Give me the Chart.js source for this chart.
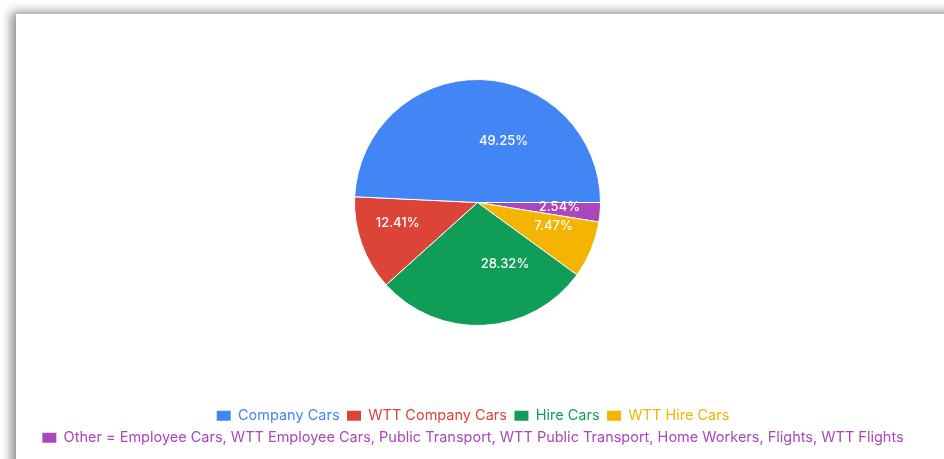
<!DOCTYPE html>
<html>
<head>
<meta charset="utf-8">
<script src="https://cdn.jsdelivr.net/npm/chart.js@4/dist/chart.umd.min.js"></script>
<style>
  html, body { margin: 0; padding: 0; width: 944px; height: 459px; overflow: hidden; background: #ffffff; }
  #card { position: absolute; left: 16px; top: 14px; width: 1000px; height: 600px; background: #ffffff;
          box-shadow: -4px -1px 10px 1px rgba(0,0,0,0.45); }
  #wrap { position: absolute; left: 0; top: 0; width: 946px; height: 455px; }
</style>
</head>
<body>
<div id="card"></div>
<div id="wrap"><canvas id="c"></canvas></div>
<script>
// ---- data (legend order) ----
const categories = [
  "Company Cars",
  "WTT Company Cars",
  "Hire Cars",
  "WTT Hire Cars",
  "Other = Employee Cars, WTT Employee Cars, Public Transport, WTT Public Transport, Home Workers, Flights, WTT Flights"
];
const shares = [49.25, 12.41, 28.32, 7.47, 2.54];
const sliceColors = ["#4285F4", "#DB4437", "#0F9D58", "#F4B400", "#AB47BC"];
// slices run counter-clockwise in legend order from 3 o'clock; Chart.js draws clockwise
const drawOrder = [4, 3, 2, 1, 0];

const labelPlugin = {
  id: 'sliceLabels',
  afterDatasetsDraw(chart) {
    const ctx = chart.ctx;
    const meta = chart.getDatasetMeta(0);
    ctx.save();
    ctx.font = "500 13px Inter";
    ctx.fillStyle = "#ffffff";
    ctx.textBaseline = "middle";
    meta.data.forEach((arc, k) => {
      const p = arc.getProps(['x', 'y', 'startAngle', 'endAngle', 'outerRadius'], true);
      const mid = (p.startAngle + p.endAngle) / 2;
      const r = p.outerRadius * 0.5;
      const x = p.x + Math.cos(mid) * r;
      const y = p.y + Math.sin(mid) * r;
      ctx.textAlign = Math.cos(mid) >= 0 ? "left" : "right";
      const v = chart.data.datasets[0].data[k];
      ctx.fillText(v.toFixed(2) + "%", x, y);
    });
    ctx.restore();
  }
};

const shiftPlugin = {
  id: 'shiftPie',
  afterLayout(chart) {
    chart.chartArea.left += 4.5;
    chart.chartArea.right += 4.5;
  }
};

new Chart(document.getElementById('c'), {
  type: 'pie',
  data: {
    labels: drawOrder.map(i => categories[i]),
    datasets: [{
      data: drawOrder.map(i => shares[i]),
      backgroundColor: drawOrder.map(i => sliceColors[i]),
      borderColor: "#ffffff",
      borderWidth: 1,
      radius: 123
    }]
  },
  options: {
    responsive: true,
    maintainAspectRatio: false,
    animation: false,
    rotation: 90,
    layout: { padding: { top: 4, left: 0, right: 0, bottom: 0 } },
    plugins: {
      tooltip: { enabled: false },
      legend: {
        position: 'bottom',
        align: 'center',
        labels: {
          boxWidth: 14,
          boxHeight: 10,
          padding: 7.5,
          font: { family: "Inter", size: 14.5 },
          generateLabels: () => categories.map((t, i) => ({
            text: t,
            fillStyle: sliceColors[i],
            strokeStyle: sliceColors[i],
            lineWidth: 0,
            fontColor: sliceColors[i],
            hidden: false,
            index: i
          }))
        }
      }
    }
  },
  plugins: [labelPlugin, shiftPlugin]
});
</script>
</body>
</html>
